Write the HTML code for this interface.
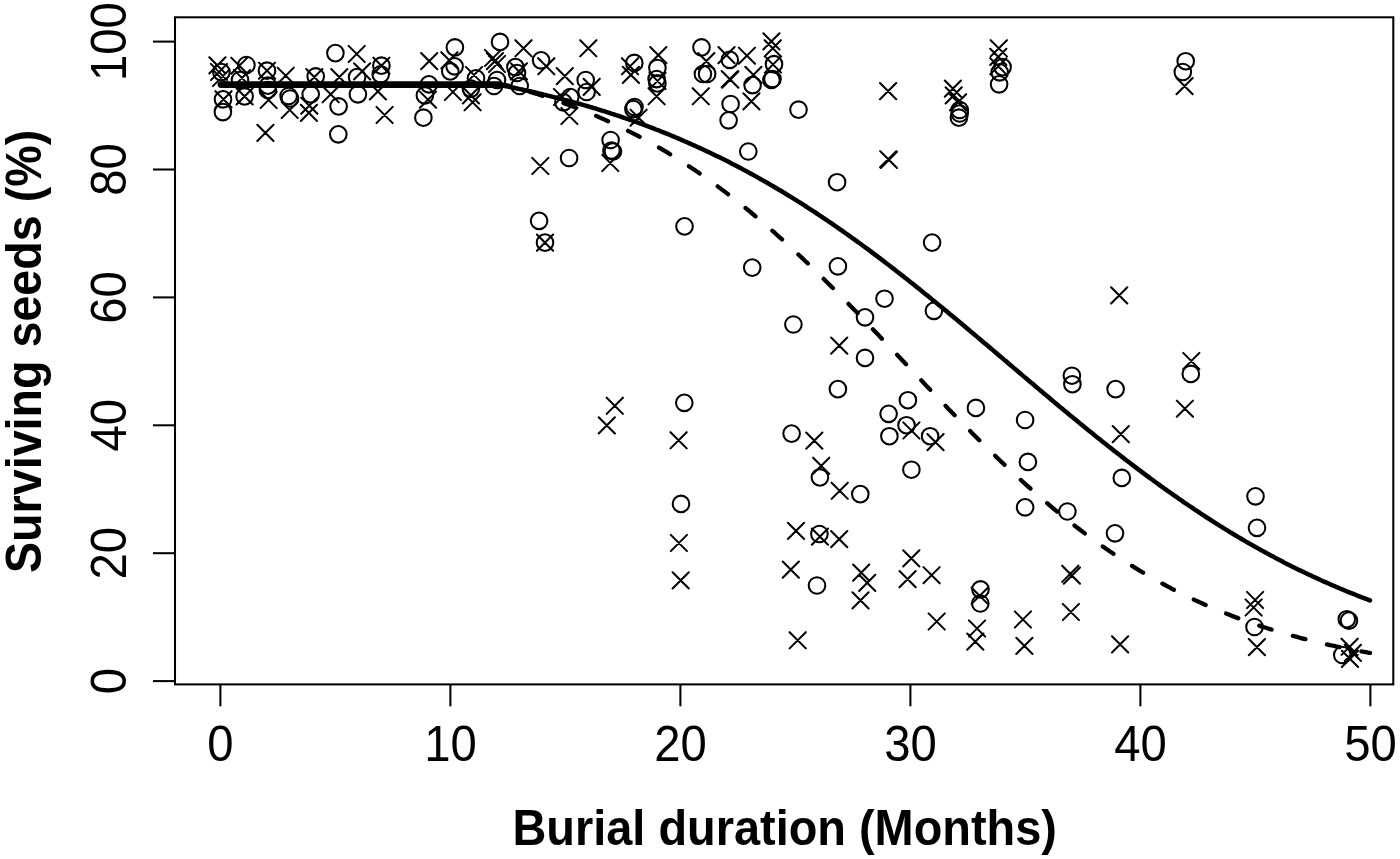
<!DOCTYPE html>
<html lang="en"><head><meta charset="utf-8"><title>Surviving seeds vs burial duration</title>
<style>
html,body{margin:0;padding:0;background:#fff;}
body{width:1400px;height:859px;overflow:hidden;}
svg{display:block;}
text{font-family:"Liberation Sans",Arial,sans-serif;fill:#000;}
.tk{font-size:50px;text-anchor:middle;}
.ti{font-size:50px;font-weight:bold;text-anchor:middle;}
</style></head><body>
<svg width="1400" height="859" viewBox="0 0 1400 859">
<rect x="0" y="0" width="1400" height="859" fill="#fff"/>

<g fill="none" stroke="#000" stroke-width="2.05">
<rect x="175" y="17.3" width="1218.3" height="667.1"/>
<line x1="220.4" y1="684.4" x2="220.4" y2="706.3"/>
<line x1="450.4" y1="684.4" x2="450.4" y2="706.3"/>
<line x1="680.4" y1="684.4" x2="680.4" y2="706.3"/>
<line x1="910.4" y1="684.4" x2="910.4" y2="706.3"/>
<line x1="1140.4" y1="684.4" x2="1140.4" y2="706.3"/>
<line x1="1370.4" y1="684.4" x2="1370.4" y2="706.3"/>
<line x1="153" y1="681.1" x2="175" y2="681.1"/>
<line x1="153" y1="553.2" x2="175" y2="553.2"/>
<line x1="153" y1="425.3" x2="175" y2="425.3"/>
<line x1="153" y1="297.4" x2="175" y2="297.4"/>
<line x1="153" y1="169.5" x2="175" y2="169.5"/>
<line x1="153" y1="41.6" x2="175" y2="41.6"/>
</g>
<text class="tk" transform="translate(220.4 761) scale(0.945 1)">0</text>
<text class="tk" transform="translate(450.4 761) scale(0.945 1)">10</text>
<text class="tk" transform="translate(680.4 761) scale(0.945 1)">20</text>
<text class="tk" transform="translate(910.4 761) scale(0.945 1)">30</text>
<text class="tk" transform="translate(1140.4 761) scale(0.945 1)">40</text>
<text class="tk" transform="translate(1370.4 761) scale(0.945 1)">50</text>
<text class="tk" transform="translate(125.5 681.1) rotate(-90) scale(0.945 1)">0</text>
<text class="tk" transform="translate(125.5 553.2) rotate(-90) scale(0.945 1)">20</text>
<text class="tk" transform="translate(125.5 425.3) rotate(-90) scale(0.945 1)">40</text>
<text class="tk" transform="translate(125.5 297.4) rotate(-90) scale(0.945 1)">60</text>
<text class="tk" transform="translate(125.5 169.5) rotate(-90) scale(0.945 1)">80</text>
<text class="tk" transform="translate(125.5 41.6) rotate(-90) scale(0.945 1)">100</text>
<text class="ti" transform="translate(784.7 845) scale(0.938 1)">Burial duration (Months)</text>
<text class="ti" transform="translate(40.8 351.4) rotate(-90) scale(0.933 1)">Surviving seeds (%)</text>
<g fill="none" stroke="#000" stroke-width="2.05" stroke-linecap="round">
<circle cx="221.4" cy="72.1" r="8.3"/>
<circle cx="246.4" cy="65.0" r="8.3"/>
<circle cx="240.0" cy="80.0" r="8.3"/>
<circle cx="223.0" cy="99.3" r="8.3"/>
<circle cx="222.9" cy="112.1" r="8.3"/>
<circle cx="244.6" cy="96.4" r="8.3"/>
<circle cx="267.0" cy="70.7" r="8.3"/>
<circle cx="267.9" cy="85.7" r="8.3"/>
<circle cx="267.9" cy="90.0" r="8.3"/>
<circle cx="288.6" cy="96.0" r="8.3"/>
<circle cx="290.0" cy="98.5" r="8.3"/>
<circle cx="315.7" cy="76.4" r="8.3"/>
<circle cx="310.7" cy="94.3" r="8.3"/>
<circle cx="335.4" cy="53.1" r="8.3"/>
<circle cx="338.6" cy="106.4" r="8.3"/>
<circle cx="338.3" cy="134.3" r="8.3"/>
<circle cx="357.1" cy="77.1" r="8.3"/>
<circle cx="357.9" cy="94.3" r="8.3"/>
<circle cx="381.4" cy="65.7" r="8.3"/>
<circle cx="380.7" cy="74.3" r="8.3"/>
<circle cx="428.9" cy="84.3" r="8.3"/>
<circle cx="424.9" cy="95.4" r="8.3"/>
<circle cx="423.4" cy="117.7" r="8.3"/>
<circle cx="454.9" cy="47.4" r="8.3"/>
<circle cx="454.6" cy="66.3" r="8.3"/>
<circle cx="450.3" cy="71.4" r="8.3"/>
<circle cx="476.0" cy="78.3" r="8.3"/>
<circle cx="470.9" cy="88.6" r="8.3"/>
<circle cx="500.0" cy="41.9" r="8.3"/>
<circle cx="494.0" cy="86.0" r="8.3"/>
<circle cx="497.0" cy="80.0" r="8.3"/>
<circle cx="515.4" cy="67.1" r="8.3"/>
<circle cx="519.7" cy="86.0" r="8.3"/>
<circle cx="517.0" cy="73.0" r="8.3"/>
<circle cx="541.1" cy="60.3" r="8.3"/>
<circle cx="585.7" cy="80.0" r="8.3"/>
<circle cx="586.6" cy="92.0" r="8.3"/>
<circle cx="563.4" cy="102.3" r="8.3"/>
<circle cx="570.3" cy="97.1" r="8.3"/>
<circle cx="569.1" cy="158.0" r="8.3"/>
<circle cx="610.6" cy="140.0" r="8.3"/>
<circle cx="611.4" cy="150.5" r="8.3"/>
<circle cx="613.0" cy="151.5" r="8.3"/>
<circle cx="634.3" cy="62.9" r="8.3"/>
<circle cx="657.4" cy="68.0" r="8.3"/>
<circle cx="656.6" cy="79.1" r="8.3"/>
<circle cx="657.4" cy="83.4" r="8.3"/>
<circle cx="633.4" cy="109.1" r="8.3"/>
<circle cx="634.5" cy="107.0" r="8.3"/>
<circle cx="701.5" cy="47.4" r="8.3"/>
<circle cx="702.9" cy="74.0" r="8.3"/>
<circle cx="707.1" cy="74.0" r="8.3"/>
<circle cx="729.8" cy="59.8" r="8.3"/>
<circle cx="730.6" cy="104.0" r="8.3"/>
<circle cx="728.6" cy="120.3" r="8.3"/>
<circle cx="774.0" cy="64.2" r="8.3"/>
<circle cx="771.4" cy="80.0" r="8.3"/>
<circle cx="772.5" cy="79.0" r="8.3"/>
<circle cx="752.6" cy="85.1" r="8.3"/>
<circle cx="798.5" cy="109.7" r="8.3"/>
<circle cx="748.3" cy="151.5" r="8.3"/>
<circle cx="959.7" cy="110.0" r="8.3"/>
<circle cx="958.9" cy="117.7" r="8.3"/>
<circle cx="959.7" cy="113.5" r="8.3"/>
<circle cx="1002.6" cy="67.1" r="8.3"/>
<circle cx="999.7" cy="72.3" r="8.3"/>
<circle cx="999.1" cy="84.3" r="8.3"/>
<circle cx="1185.7" cy="61.2" r="8.3"/>
<circle cx="1182.8" cy="72.0" r="8.3"/>
<circle cx="539.1" cy="220.8" r="8.3"/>
<circle cx="545.0" cy="242.6" r="8.3"/>
<circle cx="684.5" cy="226.4" r="8.3"/>
<circle cx="837.1" cy="182.2" r="8.3"/>
<circle cx="752.2" cy="267.6" r="8.3"/>
<circle cx="837.9" cy="266.3" r="8.3"/>
<circle cx="793.4" cy="324.5" r="8.3"/>
<circle cx="865.0" cy="317.3" r="8.3"/>
<circle cx="865.0" cy="357.9" r="8.3"/>
<circle cx="932.1" cy="242.6" r="8.3"/>
<circle cx="884.5" cy="298.7" r="8.3"/>
<circle cx="933.9" cy="310.8" r="8.3"/>
<circle cx="684.3" cy="402.8" r="8.3"/>
<circle cx="681.0" cy="503.9" r="8.3"/>
<circle cx="791.6" cy="433.6" r="8.3"/>
<circle cx="819.9" cy="477.4" r="8.3"/>
<circle cx="860.3" cy="494.1" r="8.3"/>
<circle cx="819.4" cy="534.0" r="8.3"/>
<circle cx="837.9" cy="389.1" r="8.3"/>
<circle cx="907.9" cy="400.2" r="8.3"/>
<circle cx="888.6" cy="413.8" r="8.3"/>
<circle cx="906.5" cy="425.2" r="8.3"/>
<circle cx="889.4" cy="436.2" r="8.3"/>
<circle cx="911.4" cy="469.7" r="8.3"/>
<circle cx="817.0" cy="585.5" r="8.3"/>
<circle cx="980.5" cy="589.4" r="8.3"/>
<circle cx="980.3" cy="603.5" r="8.3"/>
<circle cx="930.1" cy="436.2" r="8.3"/>
<circle cx="975.9" cy="407.9" r="8.3"/>
<circle cx="1025.1" cy="420.0" r="8.3"/>
<circle cx="1027.9" cy="461.9" r="8.3"/>
<circle cx="1025.1" cy="507.3" r="8.3"/>
<circle cx="1071.9" cy="375.7" r="8.3"/>
<circle cx="1072.4" cy="384.2" r="8.3"/>
<circle cx="1115.6" cy="389.1" r="8.3"/>
<circle cx="1121.8" cy="477.9" r="8.3"/>
<circle cx="1067.4" cy="511.5" r="8.3"/>
<circle cx="1115.0" cy="533.3" r="8.3"/>
<circle cx="1190.8" cy="373.9" r="8.3"/>
<circle cx="1255.5" cy="496.3" r="8.3"/>
<circle cx="1257.0" cy="527.8" r="8.3"/>
<circle cx="1254.5" cy="627.0" r="8.3"/>
<circle cx="1346.8" cy="619.2" r="8.3"/>
<circle cx="1349.0" cy="620.6" r="8.3"/>
<circle cx="1342.3" cy="655.0" r="8.3"/>
<path d="M209.3 57.3L225.5 73.5M209.3 73.5L225.5 57.3M210.9 63.9L227.1 80.1M210.9 80.1L227.1 63.9M212.9 69.9L229.1 86.1M212.9 86.1L229.1 69.9M231.2 57.6L247.4 73.8M231.2 73.8L247.4 57.6M233.9 69.9L250.1 86.1M233.9 86.1L250.1 69.9M215.4 91.2L231.6 107.4M215.4 107.4L231.6 91.2M236.5 88.3L252.7 104.5M236.5 104.5L252.7 88.3M258.9 62.6L275.1 78.8M258.9 78.8L275.1 62.6M260.5 91.9L276.7 108.1M260.5 108.1L276.7 91.9M277.6 67.6L293.8 83.8M277.6 83.8L293.8 67.6M281.6 101.9L297.8 118.1M281.6 118.1L297.8 101.9M257.3 124.8L273.5 141.0M257.3 141.0L273.5 124.8M306.2 69.0L322.4 85.2M306.2 85.2L322.4 69.0M301.2 97.6L317.4 113.8M301.2 113.8L317.4 97.6M300.8 104.8L317.0 121.0M300.8 121.0L317.0 104.8M348.6 45.9L364.8 62.1M348.6 62.1L364.8 45.9M331.2 69.0L347.4 85.2M331.2 85.2L347.4 69.0M322.6 86.2L338.8 102.4M322.6 102.4L338.8 86.2M354.0 63.3L370.2 79.5M354.0 79.5L370.2 63.3M373.3 57.6L389.5 73.8M373.3 73.8L389.5 57.6M369.8 83.3L386.0 99.5M369.8 99.5L386.0 83.3M376.5 106.9L392.7 123.1M376.5 123.1L392.7 106.9M421.1 53.0L437.3 69.2M421.1 69.2L437.3 53.0M419.9 91.6L436.1 107.8M419.9 107.8L436.1 91.6M441.3 52.2L457.5 68.4M441.3 68.4L457.5 52.2M444.8 83.9L461.0 100.1M444.8 100.1L461.0 83.9M464.5 94.2L480.7 110.4M464.5 110.4L480.7 94.2M462.8 87.3L479.0 103.5M462.8 103.5L479.0 87.3M465.9 66.9L482.1 83.1M465.9 83.1L482.1 66.9M486.8 53.0L503.0 69.2M486.8 69.2L503.0 53.0M484.9 49.9L501.1 66.1M484.9 66.1L501.1 49.9M488.9 55.9L505.1 72.1M488.9 72.1L505.1 55.9M510.8 63.3L527.0 79.5M510.8 79.5L527.0 63.3M515.4 40.2L531.6 56.4M515.4 56.4L531.6 40.2M538.2 58.2L554.4 74.4M538.2 74.4L554.4 58.2M556.7 68.0L572.9 84.2M556.7 84.2L572.9 68.0M580.2 40.2L596.4 56.4M580.2 56.4L596.4 40.2M583.6 78.8L599.8 95.0M583.6 95.0L599.8 78.8M553.9 88.9L570.1 105.1M553.9 105.1L570.1 88.9M561.3 107.9L577.5 124.1M561.3 124.1L577.5 107.9M532.2 157.9L548.4 174.1M532.2 174.1L548.4 157.9M602.2 154.9L618.4 171.1M602.2 171.1L618.4 154.9M621.9 58.2L638.1 74.4M621.9 74.4L638.1 58.2M622.8 66.8L639.0 83.0M622.8 83.0L639.0 66.8M650.2 47.0L666.4 63.2M650.2 63.2L666.4 47.0M649.4 72.9L665.6 89.1M649.4 89.1L665.6 72.9M648.5 88.2L664.7 104.4M648.5 104.4L664.7 88.2M630.5 109.6L646.7 125.8M630.5 125.8L646.7 109.6M698.2 53.0L714.4 69.2M698.2 69.2L714.4 53.0M692.7 88.2L708.9 104.4M692.7 104.4L708.9 88.2M718.4 47.0L734.6 63.2M718.4 63.2L734.6 47.0M738.8 47.6L755.0 63.8M738.8 63.8L755.0 47.6M721.7 71.0L737.9 87.2M721.7 87.2L737.9 71.0M722.2 71.5L738.4 87.7M722.2 87.7L738.4 71.5M763.3 33.3L779.5 49.5M763.3 49.5L779.5 33.3M764.7 40.2L780.9 56.4M764.7 56.4L780.9 40.2M764.9 56.4L781.1 72.6M764.9 72.6L781.1 56.4M745.3 66.8L761.5 83.0M745.3 83.0L761.5 66.8M743.3 93.3L759.5 109.5M743.3 109.5L759.5 93.3M880.0 83.0L896.2 99.2M880.0 99.2L896.2 83.0M880.1 151.1L896.3 167.3M880.1 167.3L896.3 151.1M880.8 151.8L897.0 168.0M880.8 168.0L897.0 151.8M944.8 80.5L961.0 96.7M944.8 96.7L961.0 80.5M945.6 87.3L961.8 103.5M945.6 103.5L961.8 87.3M949.9 94.2L966.1 110.4M949.9 110.4L966.1 94.2M990.7 40.2L1006.9 56.4M990.7 56.4L1006.9 40.2M990.2 48.8L1006.4 65.0M990.2 65.0L1006.4 48.8M990.2 58.2L1006.4 74.4M990.2 74.4L1006.4 58.2M1176.5 78.0L1192.7 94.2M1176.5 94.2L1192.7 78.0M536.9 234.5L553.1 250.7M536.9 250.7L553.1 234.5M831.1 337.5L847.3 353.7M831.1 353.7L847.3 337.5M1111.1 287.3L1127.3 303.5M1111.1 303.5L1127.3 287.3M1183.2 352.9L1199.4 369.1M1183.2 369.1L1199.4 352.9M606.7 397.7L622.9 413.9M606.7 413.9L622.9 397.7M598.7 417.3L614.9 433.5M598.7 433.5L614.9 417.3M670.5 432.2L686.7 448.4M670.5 448.4L686.7 432.2M670.8 534.9L687.0 551.1M670.8 551.1L687.0 534.9M806.2 432.5L822.4 448.7M806.2 448.7L822.4 432.5M813.1 457.7L829.3 473.9M813.1 473.9L829.3 457.7M831.6 482.7L847.8 498.9M831.6 498.9L847.8 482.7M787.9 522.8L804.1 539.0M787.9 539.0L804.1 522.8M811.8 528.5L828.0 544.7M811.8 544.7L828.0 528.5M831.1 531.0L847.3 547.2M831.1 547.2L847.3 531.0M782.7 561.5L798.9 577.7M782.7 577.7L798.9 561.5M853.1 564.5L869.3 580.7M853.1 580.7L869.3 564.5M903.2 550.3L919.4 566.5M903.2 566.5L919.4 550.3M903.3 422.4L919.5 438.6M903.3 438.6L919.5 422.4M672.6 572.3L688.8 588.5M672.6 588.5L688.8 572.3M859.1 574.8L875.3 591.0M859.1 591.0L875.3 574.8M852.4 592.3L868.6 608.5M852.4 608.5L868.6 592.3M789.6 632.2L805.8 648.4M789.6 648.4L805.8 632.2M899.5 571.0L915.7 587.2M899.5 587.2L915.7 571.0M923.5 567.1L939.7 583.3M923.5 583.3L939.7 567.1M928.6 613.4L944.8 629.6M928.6 629.6L944.8 613.4M971.6 587.7L987.8 603.9M971.6 603.9L987.8 587.7M969.0 620.4L985.2 636.6M969.0 636.6L985.2 620.4M967.2 633.5L983.4 649.7M967.2 649.7L983.4 633.5M927.4 434.0L943.6 450.2M927.4 450.2L943.6 434.0M1112.7 426.0L1128.9 442.2M1112.7 442.2L1128.9 426.0M1176.8 400.6L1193.0 416.8M1176.8 416.8L1193.0 400.6M1062.2 565.7L1078.4 581.9M1062.2 581.9L1078.4 565.7M1063.8 567.5L1080.0 583.7M1063.8 583.7L1080.0 567.5M1062.8 603.9L1079.0 620.1M1062.8 620.1L1079.0 603.9M1014.8 611.4L1031.0 627.6M1014.8 627.6L1031.0 611.4M1016.3 637.8L1032.5 654.0M1016.3 654.0L1032.5 637.8M1112.0 636.3L1128.2 652.5M1112.0 652.5L1128.2 636.3M1247.0 591.9L1263.2 608.1M1247.0 608.1L1263.2 591.9M1245.5 599.4L1261.7 615.6M1245.5 615.6L1261.7 599.4M1248.8 639.0L1265.0 655.2M1248.8 655.2L1265.0 639.0M1341.5 638.7L1357.7 654.9M1341.5 654.9L1357.7 638.7M1341.9 650.8L1358.1 667.0M1341.9 667.0L1358.1 650.8M1344.8 644.8L1361.0 661.0M1344.8 661.0L1361.0 644.8"/>
</g>
<g fill="none" stroke="#000" stroke-linecap="round" stroke-linejoin="round">
<line x1="221" y1="84.6" x2="499" y2="84.6" stroke-width="6.9"/>
<path d="M498.0 84.6 L500.0 85.0 L502.0 85.4 L504.0 85.8 L506.0 86.2 L508.0 86.6 L510.0 87.0 L512.0 87.4 L514.0 87.8 L516.0 88.2 L518.0 88.7 L520.0 89.1 L522.0 89.5 L524.0 90.0 L526.0 90.4 L528.0 90.9 L530.0 91.3 L532.0 91.8 L534.0 92.2 L536.0 92.7 L538.0 93.2 L540.0 93.6 L542.0 94.1 L544.0 94.6 L546.0 95.1 L548.0 95.6 L550.0 96.1 L552.0 96.6 L554.0 97.1 L556.0 97.6 L558.0 98.1 L560.0 98.6 L562.0 99.1 L564.0 99.7 L566.0 100.2 L568.0 100.7 L570.0 101.3 L572.0 101.8 L574.0 102.4 L576.0 102.9 L578.0 103.5 L580.0 104.0 L582.0 104.6 L584.0 105.2 L586.0 105.8 L588.0 106.3 L590.0 106.9 L592.0 107.5 L594.0 108.1 L596.0 108.7 L598.0 109.3 L600.0 110.0 L602.0 110.6 L604.0 111.2 L606.0 111.8 L608.0 112.5 L610.0 113.1 L612.0 113.8 L614.0 114.4 L616.0 115.1 L618.0 115.7 L620.0 116.4 L622.0 117.1 L624.0 117.8 L626.0 118.5 L628.0 119.1 L630.0 119.8 L632.0 120.5 L634.0 121.3 L636.0 122.0 L638.0 122.7 L640.0 123.4 L642.0 124.2 L644.0 124.9 L646.0 125.6 L648.0 126.4 L650.0 127.1 L652.0 127.9 L654.0 128.7 L656.0 129.5 L658.0 130.2 L660.0 131.0 L662.0 131.8 L664.0 132.6 L666.0 133.4 L668.0 134.2 L670.0 135.0 L672.0 135.9 L674.0 136.7 L676.0 137.5 L678.0 138.4 L680.0 139.2 L682.0 140.1 L684.0 141.0 L686.0 141.8 L688.0 142.7 L690.0 143.6 L692.0 144.5 L694.0 145.4 L696.0 146.3 L698.0 147.2 L700.0 148.1 L702.0 149.0 L704.0 150.0 L706.0 150.9 L708.0 151.8 L710.0 152.8 L712.0 153.7 L714.0 154.7 L716.0 155.7 L718.0 156.6 L720.0 157.6 L722.0 158.6 L724.0 159.6 L726.0 160.6 L728.0 161.6 L730.0 162.6 L732.0 163.7 L734.0 164.7 L736.0 165.7 L738.0 166.8 L740.0 167.8 L742.0 168.9 L744.0 170.0 L746.0 171.0 L748.0 172.1 L750.0 173.2 L752.0 174.3 L754.0 175.4 L756.0 176.5 L758.0 177.6 L760.0 178.7 L762.0 179.9 L764.0 181.0 L766.0 182.1 L768.0 183.3 L770.0 184.5 L772.0 185.6 L774.0 186.8 L776.0 188.0 L778.0 189.2 L780.0 190.3 L782.0 191.5 L784.0 192.7 L786.0 194.0 L788.0 195.2 L790.0 196.4 L792.0 197.6 L794.0 198.9 L796.0 200.1 L798.0 201.4 L800.0 202.6 L802.0 203.9 L804.0 205.2 L806.0 206.5 L808.0 207.8 L810.0 209.1 L812.0 210.4 L814.0 211.7 L816.0 213.0 L818.0 214.3 L820.0 215.6 L822.0 217.0 L824.0 218.3 L826.0 219.6 L828.0 221.0 L830.0 222.4 L832.0 223.7 L834.0 225.1 L836.0 226.5 L838.0 227.9 L840.0 229.3 L842.0 230.7 L844.0 232.1 L846.0 233.5 L848.0 234.9 L850.0 236.3 L852.0 237.8 L854.0 239.2 L856.0 240.6 L858.0 242.1 L860.0 243.5 L862.0 245.0 L864.0 246.5 L866.0 247.9 L868.0 249.4 L870.0 250.9 L872.0 252.4 L874.0 253.9 L876.0 255.4 L878.0 256.9 L880.0 258.4 L882.0 259.9 L884.0 261.4 L886.0 263.0 L888.0 264.5 L890.0 266.0 L892.0 267.6 L894.0 269.1 L896.0 270.7 L898.0 272.2 L900.0 273.8 L902.0 275.4 L904.0 276.9 L906.0 278.5 L908.0 280.1 L910.0 281.7 L912.0 283.2 L914.0 284.8 L916.0 286.4 L918.0 288.0 L920.0 289.6 L922.0 291.3 L924.0 292.9 L926.0 294.5 L928.0 296.1 L930.0 297.7 L932.0 299.4 L934.0 301.0 L936.0 302.6 L938.0 304.3 L940.0 305.9 L942.0 307.5 L944.0 309.2 L946.0 310.8 L948.0 312.5 L950.0 314.2 L952.0 315.8 L954.0 317.5 L956.0 319.1 L958.0 320.8 L960.0 322.5 L962.0 324.1 L964.0 325.8 L966.0 327.5 L968.0 329.2 L970.0 330.9 L972.0 332.5 L974.0 334.2 L976.0 335.9 L978.0 337.6 L980.0 339.3 L982.0 341.0 L984.0 342.7 L986.0 344.3 L988.0 346.0 L990.0 347.7 L992.0 349.4 L994.0 351.1 L996.0 352.8 L998.0 354.5 L1000.0 356.2 L1002.0 357.9 L1004.0 359.6 L1006.0 361.3 L1008.0 363.0 L1010.0 364.7 L1012.0 366.4 L1014.0 368.1 L1016.0 369.8 L1018.0 371.5 L1020.0 373.2 L1022.0 374.9 L1024.0 376.6 L1026.0 378.3 L1028.0 380.0 L1030.0 381.7 L1032.0 383.3 L1034.0 385.0 L1036.0 386.7 L1038.0 388.4 L1040.0 390.1 L1042.0 391.8 L1044.0 393.5 L1046.0 395.1 L1048.0 396.8 L1050.0 398.5 L1052.0 400.2 L1054.0 401.9 L1056.0 403.5 L1058.0 405.2 L1060.0 406.9 L1062.0 408.5 L1064.0 410.2 L1066.0 411.8 L1068.0 413.5 L1070.0 415.2 L1072.0 416.8 L1074.0 418.5 L1076.0 420.1 L1078.0 421.7 L1080.0 423.4 L1082.0 425.0 L1084.0 426.6 L1086.0 428.3 L1088.0 429.9 L1090.0 431.5 L1092.0 433.1 L1094.0 434.7 L1096.0 436.4 L1098.0 438.0 L1100.0 439.6 L1102.0 441.2 L1104.0 442.8 L1106.0 444.3 L1108.0 445.9 L1110.0 447.5 L1112.0 449.1 L1114.0 450.7 L1116.0 452.2 L1118.0 453.8 L1120.0 455.3 L1122.0 456.9 L1124.0 458.4 L1126.0 460.0 L1128.0 461.5 L1130.0 463.0 L1132.0 464.6 L1134.0 466.1 L1136.0 467.6 L1138.0 469.1 L1140.0 470.6 L1142.0 472.1 L1144.0 473.6 L1146.0 475.1 L1148.0 476.6 L1150.0 478.1 L1152.0 479.5 L1154.0 481.0 L1156.0 482.5 L1158.0 483.9 L1160.0 485.4 L1162.0 486.8 L1164.0 488.3 L1166.0 489.7 L1168.0 491.1 L1170.0 492.5 L1172.0 493.9 L1174.0 495.3 L1176.0 496.7 L1178.0 498.1 L1180.0 499.5 L1182.0 500.9 L1184.0 502.3 L1186.0 503.6 L1188.0 505.0 L1190.0 506.4 L1192.0 507.7 L1194.0 509.1 L1196.0 510.4 L1198.0 511.7 L1200.0 513.0 L1202.0 514.4 L1204.0 515.7 L1206.0 517.0 L1208.0 518.3 L1210.0 519.5 L1212.0 520.8 L1214.0 522.1 L1216.0 523.4 L1218.0 524.6 L1220.0 525.9 L1222.0 527.1 L1224.0 528.4 L1226.0 529.6 L1228.0 530.8 L1230.0 532.1 L1232.0 533.3 L1234.0 534.5 L1236.0 535.7 L1238.0 536.9 L1240.0 538.0 L1242.0 539.2 L1244.0 540.4 L1246.0 541.6 L1248.0 542.7 L1250.0 543.9 L1252.0 545.0 L1254.0 546.1 L1256.0 547.3 L1258.0 548.4 L1260.0 549.5 L1262.0 550.6 L1264.0 551.7 L1266.0 552.8 L1268.0 553.9 L1270.0 555.0 L1272.0 556.1 L1274.0 557.1 L1276.0 558.2 L1278.0 559.2 L1280.0 560.3 L1282.0 561.3 L1284.0 562.4 L1286.0 563.4 L1288.0 564.4 L1290.0 565.4 L1292.0 566.4 L1294.0 567.4 L1296.0 568.4 L1298.0 569.4 L1300.0 570.4 L1302.0 571.3 L1304.0 572.3 L1306.0 573.2 L1308.0 574.2 L1310.0 575.1 L1312.0 576.1 L1314.0 577.0 L1316.0 577.9 L1318.0 578.8 L1320.0 579.8 L1322.0 580.7 L1324.0 581.6 L1326.0 582.4 L1328.0 583.3 L1330.0 584.2 L1332.0 585.1 L1334.0 585.9 L1336.0 586.8 L1338.0 587.6 L1340.0 588.5 L1342.0 589.3 L1344.0 590.2 L1346.0 591.0 L1348.0 591.8 L1350.0 592.6 L1352.0 593.4 L1354.0 594.2 L1356.0 595.0 L1358.0 595.8 L1360.0 596.6 L1362.0 597.4 L1364.0 598.1 L1366.0 598.9 L1368.0 599.6 L1370.0 600.4" stroke-width="4.5"/>
<path d="M504.0 84.6 L506.0 85.1 L508.0 85.6 L510.0 86.2 L512.0 86.7 L514.0 87.3 L516.0 87.8 L518.0 88.4 L520.0 89.0 L522.0 89.5 L524.0 90.1 L526.0 90.7 L528.0 91.3 L530.0 91.9 L532.0 92.5 L534.0 93.1 L536.0 93.7 L538.0 94.3 L540.0 95.0 L542.0 95.6 L544.0 96.3 L546.0 96.9 L548.0 97.6 L550.0 98.3 L552.0 98.9 L554.0 99.6 L556.0 100.3 L558.0 101.0 L560.0 101.7 L562.0 102.4 L564.0 103.2 L566.0 103.9 L568.0 104.6 L570.0 105.4 L572.0 106.1 L574.0 106.9 L576.0 107.7 L578.0 108.4 L580.0 109.2 L582.0 110.0 L584.0 110.8 L586.0 111.6 L588.0 112.5 L590.0 113.3 L592.0 114.1 L594.0 115.0 L596.0 115.8 L598.0 116.7 L600.0 117.6 L602.0 118.5 L604.0 119.3 L606.0 120.3 L608.0 121.2 L610.0 122.1 L612.0 123.0 L614.0 123.9 L616.0 124.9 L618.0 125.8 L620.0 126.8 L622.0 127.8 L624.0 128.8 L626.0 129.8 L628.0 130.8 L630.0 131.8 L632.0 132.8 L634.0 133.8 L636.0 134.9 L638.0 135.9 L640.0 137.0 L642.0 138.1 L644.0 139.2 L646.0 140.2 L648.0 141.4 L650.0 142.5 L652.0 143.6 L654.0 144.7 L656.0 145.9 L658.0 147.0 L660.0 148.2 L662.0 149.4 L664.0 150.5 L666.0 151.7 L668.0 152.9 L670.0 154.2 L672.0 155.4 L674.0 156.6 L676.0 157.9 L678.0 159.1 L680.0 160.4 L682.0 161.7 L684.0 163.0 L686.0 164.3 L688.0 165.6 L690.0 166.9 L692.0 168.3 L694.0 169.6 L696.0 171.0 L698.0 172.3 L700.0 173.7 L702.0 175.1 L704.0 176.5 L706.0 177.9 L708.0 179.3 L710.0 180.8 L712.0 182.2 L714.0 183.7 L716.0 185.1 L718.0 186.6 L720.0 188.1 L722.0 189.6 L724.0 191.1 L726.0 192.6 L728.0 194.1 L730.0 195.7 L732.0 197.2 L734.0 198.8 L736.0 200.4 L738.0 201.9 L740.0 203.5 L742.0 205.1 L744.0 206.8 L746.0 208.4 L748.0 210.0 L750.0 211.7 L752.0 213.3 L754.0 215.0 L756.0 216.7 L758.0 218.3 L760.0 220.0 L762.0 221.8 L764.0 223.5 L766.0 225.2 L768.0 226.9 L770.0 228.7 L772.0 230.4 L774.0 232.2 L776.0 234.0 L778.0 235.8 L780.0 237.6 L782.0 239.4 L784.0 241.2 L786.0 243.0 L788.0 244.8 L790.0 246.7 L792.0 248.5 L794.0 250.4 L796.0 252.2 L798.0 254.1 L800.0 256.0 L802.0 257.9 L804.0 259.8 L806.0 261.7 L808.0 263.6 L810.0 265.5 L812.0 267.5 L814.0 269.4 L816.0 271.3 L818.0 273.3 L820.0 275.3 L822.0 277.2 L824.0 279.2 L826.0 281.2 L828.0 283.2 L830.0 285.2 L832.0 287.2 L834.0 289.2 L836.0 291.2 L838.0 293.2 L840.0 295.2 L842.0 297.3 L844.0 299.3 L846.0 301.3 L848.0 303.4 L850.0 305.4 L852.0 307.5 L854.0 309.6 L856.0 311.6 L858.0 313.7 L860.0 315.8 L862.0 317.8 L864.0 319.9 L866.0 322.0 L868.0 324.1 L870.0 326.2 L872.0 328.3 L874.0 330.4 L876.0 332.5 L878.0 334.6 L880.0 336.7 L882.0 338.8 L884.0 340.9 L886.0 343.0 L888.0 345.1 L890.0 347.3 L892.0 349.4 L894.0 351.5 L896.0 353.6 L898.0 355.7 L900.0 357.8 L902.0 360.0 L904.0 362.1 L906.0 364.2 L908.0 366.3 L910.0 368.4 L912.0 370.6 L914.0 372.7 L916.0 374.8 L918.0 376.9 L920.0 379.0 L922.0 381.1 L924.0 383.2 L926.0 385.4 L928.0 387.5 L930.0 389.6 L932.0 391.7 L934.0 393.8 L936.0 395.9 L938.0 398.0 L940.0 400.0 L942.0 402.1 L944.0 404.2 L946.0 406.3 L948.0 408.4 L950.0 410.4 L952.0 412.5 L954.0 414.6 L956.0 416.6 L958.0 418.7 L960.0 420.7 L962.0 422.8 L964.0 424.8 L966.0 426.9 L968.0 428.9 L970.0 430.9 L972.0 432.9 L974.0 434.9 L976.0 436.9 L978.0 438.9 L980.0 440.9 L982.0 442.9 L984.0 444.9 L986.0 446.9 L988.0 448.8 L990.0 450.8 L992.0 452.7 L994.0 454.7 L996.0 456.6 L998.0 458.5 L1000.0 460.5 L1002.0 462.4 L1004.0 464.3 L1006.0 466.2 L1008.0 468.1 L1010.0 469.9 L1012.0 471.8 L1014.0 473.7 L1016.0 475.5 L1018.0 477.4 L1020.0 479.2 L1022.0 481.0 L1024.0 482.8 L1026.0 484.7 L1028.0 486.5 L1030.0 488.2 L1032.0 490.0 L1034.0 491.8 L1036.0 493.6 L1038.0 495.3 L1040.0 497.1 L1042.0 498.8 L1044.0 500.5 L1046.0 502.2 L1048.0 503.9 L1050.0 505.6 L1052.0 507.3 L1054.0 509.0 L1056.0 510.6 L1058.0 512.3 L1060.0 513.9 L1062.0 515.6 L1064.0 517.2 L1066.0 518.8 L1068.0 520.4 L1070.0 522.0 L1072.0 523.5 L1074.0 525.1 L1076.0 526.7 L1078.0 528.2 L1080.0 529.8 L1082.0 531.3 L1084.0 532.8 L1086.0 534.3 L1088.0 535.8 L1090.0 537.3 L1092.0 538.7 L1094.0 540.2 L1096.0 541.6 L1098.0 543.1 L1100.0 544.5 L1102.0 545.9 L1104.0 547.3 L1106.0 548.7 L1108.0 550.1 L1110.0 551.5 L1112.0 552.8 L1114.0 554.2 L1116.0 555.5 L1118.0 556.9 L1120.0 558.2 L1122.0 559.5 L1124.0 560.8 L1126.0 562.1 L1128.0 563.4 L1130.0 564.6 L1132.0 565.9 L1134.0 567.1 L1136.0 568.4 L1138.0 569.6 L1140.0 570.8 L1142.0 572.0 L1144.0 573.2 L1146.0 574.4 L1148.0 575.5 L1150.0 576.7 L1152.0 577.8 L1154.0 579.0 L1156.0 580.1 L1158.0 581.2 L1160.0 582.3 L1162.0 583.4 L1164.0 584.5 L1166.0 585.6 L1168.0 586.7 L1170.0 587.7 L1172.0 588.8 L1174.0 589.8 L1176.0 590.8 L1178.0 591.9 L1180.0 592.9 L1182.0 593.9 L1184.0 594.9 L1186.0 595.8 L1188.0 596.8 L1190.0 597.8 L1192.0 598.7 L1194.0 599.7 L1196.0 600.6 L1198.0 601.5 L1200.0 602.4 L1202.0 603.3 L1204.0 604.2 L1206.0 605.1 L1208.0 606.0 L1210.0 606.9 L1212.0 607.7 L1214.0 608.6 L1216.0 609.4 L1218.0 610.3 L1220.0 611.1 L1222.0 611.9 L1224.0 612.7 L1226.0 613.5 L1228.0 614.3 L1230.0 615.1 L1232.0 615.9 L1234.0 616.6 L1236.0 617.4 L1238.0 618.1 L1240.0 618.9 L1242.0 619.6 L1244.0 620.3 L1246.0 621.1 L1248.0 621.8 L1250.0 622.5 L1252.0 623.2 L1254.0 623.9 L1256.0 624.6 L1258.0 625.2 L1260.0 625.9 L1262.0 626.6 L1264.0 627.2 L1266.0 627.8 L1268.0 628.5 L1270.0 629.1 L1272.0 629.7 L1274.0 630.4 L1276.0 631.0 L1278.0 631.6 L1280.0 632.2 L1282.0 632.8 L1284.0 633.3 L1286.0 633.9 L1288.0 634.5 L1290.0 635.0 L1292.0 635.6 L1294.0 636.2 L1296.0 636.7 L1298.0 637.2 L1300.0 637.8 L1302.0 638.3 L1304.0 638.8 L1306.0 639.3 L1308.0 639.8 L1310.0 640.3 L1312.0 640.8 L1314.0 641.3 L1316.0 641.8 L1318.0 642.3 L1320.0 642.8 L1322.0 643.2 L1324.0 643.7 L1326.0 644.2 L1328.0 644.6 L1330.0 645.1 L1332.0 645.5 L1334.0 645.9 L1336.0 646.4 L1338.0 646.8 L1340.0 647.2 L1342.0 647.6 L1344.0 648.0 L1346.0 648.4 L1348.0 648.8 L1350.0 649.2 L1352.0 649.6 L1354.0 650.0 L1356.0 650.4 L1358.0 650.8 L1360.0 651.1 L1362.0 651.5 L1364.0 651.9 L1366.0 652.2 L1368.0 652.6 L1370.0 652.9" stroke-width="4.3" stroke-dasharray="13.0 22.20" stroke-dashoffset="8.09"/>
</g>
</svg></body></html>
